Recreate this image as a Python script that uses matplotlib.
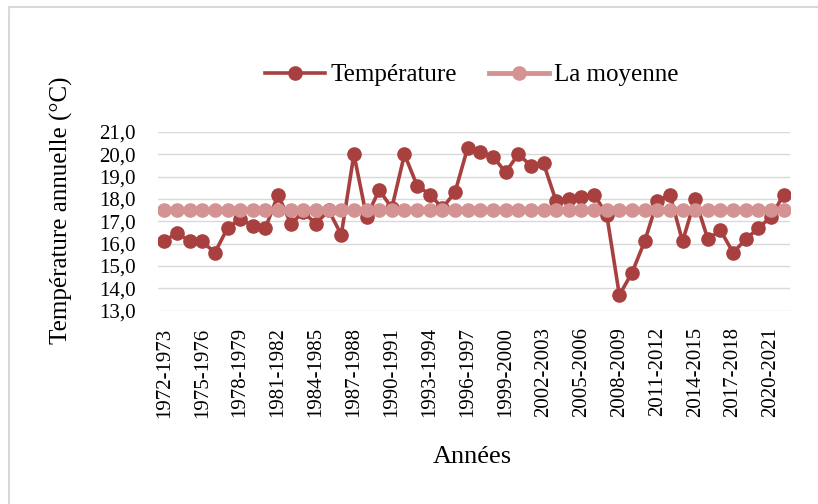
import numpy as np
import matplotlib.pyplot as plt
from matplotlib.patches import Rectangle

plt.rcParams['font.family'] = ['Liberation Serif', 'DejaVu Serif']

seasons = [f"{y}-{y+1}" for y in range(1972, 2022)]
temperature = [16.1, 16.5, 16.1, 16.1, 15.6, 16.7, 17.1, 16.8, 16.7, 18.2,
               16.9, 17.4, 16.9, 17.5, 16.4, 20.0, 17.2, 18.4, 17.6, 20.0,
               18.6, 18.2, 17.6, 18.3, 20.3, 20.1, 19.9, 19.2, 20.0, 19.5,
               19.6, 17.9, 18.0, 18.1, 18.2, 17.3, 13.7, 14.7, 16.1, 17.9,
               18.2, 16.1, 18.0, 16.2, 16.6, 15.6, 16.2, 16.7, 17.2, 18.2]
moyenne = [17.5] * len(seasons)
yticks = [13, 14, 15, 16, 17, 18, 19, 20, 21]

fig = plt.figure(figsize=(8.18, 5.04), dpi=100)
fig.patches.append(Rectangle((9/818, -0.1), 1.2, 1 - 7/504 + 0.1, transform=fig.transFigure,
                             fill=False, edgecolor='#d9d9d9', linewidth=1.5))
ax = fig.add_axes([158/818, 1 - 310.7/504, 632/818, (310.7 - 132)/504])

x = np.arange(len(seasons))
ax.plot(x, temperature, color='#a8403f', lw=2.6, marker='o', ms=9.5, label='Température', zorder=3)
ax.plot(x, moyenne, color='#d49292', lw=3.5, marker='o', ms=9.5, label='La moyenne', zorder=4)

ax.set_xlim(-0.5, len(seasons) - 0.5)
ax.set_ylim(13, 21)
ax.set_yticks(yticks)
ax.set_yticklabels([f"{v:.1f}".replace('.', ',') for v in yticks], fontsize=15)
ax.set_xticks(x[::3])
ax.set_xticklabels(seasons[::3], rotation=90, fontsize=15)
ax.tick_params(axis='both', length=0)
ax.tick_params(axis='y', pad=16)
ax.tick_params(axis='x', pad=12)
ax.grid(axis='y', color='#d9d9d9', lw=1)
ax.set_axisbelow(True)
for s in ax.spines.values():
    s.set_visible(False)

ax.set_ylabel('Température annuelle (°C)', fontsize=18)
ax.yaxis.set_label_coords(-0.135, 0.56)
ax.set_xlabel('Années', fontsize=19)
ax.xaxis.set_label_coords(0.497, -0.755)
fig.legend(loc='center', bbox_to_anchor=(472/818, 1 - 75/504), ncol=2, frameon=False,
           fontsize=18, handlelength=2.4, columnspacing=1.3, handletextpad=0.2)

fig.savefig('out.png', dpi=100)
